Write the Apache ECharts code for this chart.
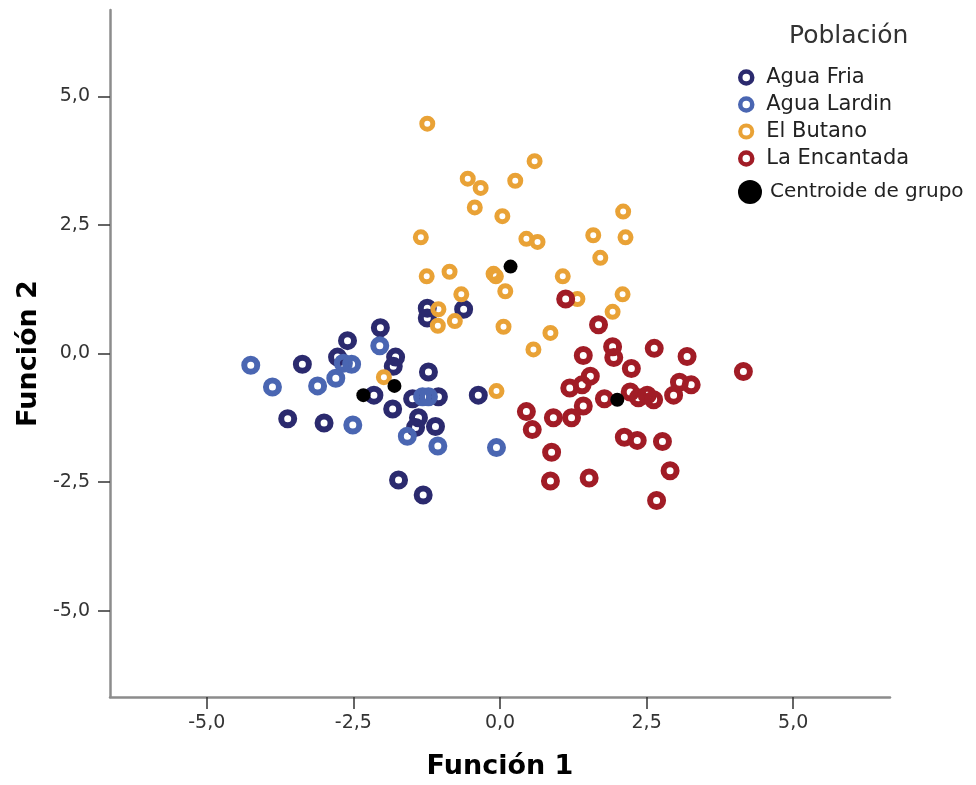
<!DOCTYPE html>
<html>
<head>
<meta charset="utf-8">
<script src="https://cdn.jsdelivr.net/npm/echarts@6/dist/echarts.min.js"></script>
<style>html,body{margin:0;padding:0;background:#fff;}#c{width:976px;height:785px;}</style>
</head>
<body>
<div id="c"></div>
<script>
const tickValues = [-5, -2.5, 0, 2.5, 5];
const seriesNames = ['Agua Fria', 'Agua Lardin', 'El Butano', 'La Encantada'];
const centroidName = 'Centroide de grupo';
const legendTitle = 'Población';
const xTitle = 'Función 1';
const yTitle = 'Función 2';

const aguaFria = [[-3.37,-0.21],[-3.62,-1.27],[-2.60,0.25],[-2.77,-0.07],[-3.00,-1.35],[-2.04,0.50],[-1.78,-0.07],[-1.82,-0.25],[-2.15,-0.81],[-1.83,-1.08],[-1.49,-0.88],[-1.05,-0.84],[-1.22,-0.36],[-1.39,-1.25],[-1.44,-1.44],[-1.10,-1.42],[-0.37,-0.81],[-1.73,-2.46],[-1.31,-2.75],[-1.24,0.88],[-1.24,0.69],[-0.62,0.86]];
const aguaLardin = [[-4.25,-0.23],[-3.88,-0.65],[-2.67,-0.19],[-2.53,-0.21],[-2.80,-0.48],[-3.11,-0.63],[-2.51,-1.39],[-2.05,0.15],[-1.32,-0.84],[-1.22,-0.84],[-1.58,-1.61],[-1.06,-1.80],[-0.06,-1.83]];
const elButano = [[-1.24,4.47],[-0.55,3.40],[-0.33,3.22],[0.59,3.74],[0.26,3.36],[-0.43,2.84],[0.04,2.67],[-1.35,2.26],[0.45,2.23],[0.64,2.17],[2.10,2.76],[1.59,2.30],[2.14,2.26],[1.71,1.86],[-1.25,1.50],[-0.86,1.59],[-0.11,1.55],[-0.07,1.50],[0.09,1.21],[-0.66,1.15],[1.07,1.50],[2.09,1.15],[1.92,0.81],[1.32,1.06],[-1.05,0.86],[-1.06,0.54],[-0.77,0.63],[0.06,0.52],[0.86,0.40],[0.57,0.08],[-1.98,-0.46],[-0.06,-0.73]];
const laEncantada = [[1.12,1.06],[1.68,0.56],[1.92,0.13],[1.94,-0.08],[1.42,-0.04],[2.63,0.10],[3.19,-0.06],[4.15,-0.35],[2.24,-0.29],[1.54,-0.44],[1.40,-0.61],[1.19,-0.67],[1.78,-0.88],[2.22,-0.75],[2.36,-0.86],[2.51,-0.81],[2.62,-0.90],[3.06,-0.56],[3.26,-0.61],[2.96,-0.81],[1.42,-1.02],[1.22,-1.25],[0.91,-1.25],[0.45,-1.13],[0.55,-1.48],[2.12,-1.63],[2.34,-1.69],[2.77,-1.71],[0.88,-1.92],[2.90,-2.28],[0.86,-2.48],[1.52,-2.42],[2.67,-2.86]];
const centroides = [[0.18,1.69],[-2.33,-0.81],[-1.80,-0.63],[2.00,-0.90]];

const groupData = [aguaFria, aguaLardin, elButano, laEncantada];
const colors = ['#2b2a6e', '#4a66b2', '#e9a236', '#a11c26'];
const sizes = [13, 13, 11, 13];
const borders = [6, 6, 5, 6];
const legendBorders = [4.5, 4.5, 4, 4.5];

const fmt = v => v.toFixed(1).replace('.', ',');
const FONT = 'DejaVu Sans';

function axisCommon() {
  return {
    type: 'value',
    splitLine: { show: false },
    axisLine: { show: true, onZero: false, lineStyle: { color: '#8c8c8c', width: 2.5 } },
    axisTick: { show: true, customValues: tickValues, length: 12, lineStyle: { color: '#333', width: 1.5 } },
    axisLabel: { customValues: tickValues, formatter: fmt, color: '#333', fontFamily: FONT, fontSize: 19 },
    nameTextStyle: { color: '#000', fontFamily: FONT, fontWeight: 'bold', fontSize: 27 }
  };
}

const series = groupData.map((d, i) => ({
  name: seriesNames[i],
  type: 'scatter',
  data: d,
  symbol: 'circle',
  symbolSize: sizes[i],
  itemStyle: { color: 'rgba(255,255,255,0)', borderColor: colors[i], borderWidth: borders[i], opacity: 1 },
  emphasis: { disabled: true }
}));
series.push({
  name: centroidName,
  type: 'scatter',
  data: centroides,
  symbol: 'circle',
  symbolSize: 14,
  itemStyle: { color: '#000', borderColor: '#000', borderWidth: 0, opacity: 1 },
  z: 5,
  emphasis: { disabled: true }
});

const chart = echarts.init(document.getElementById('c'), null, { renderer: 'canvas' });
chart.setOption({
  animation: false,
  backgroundColor: '#fff',
  grid: { left: 110, right: 86, top: 10, bottom: 79, containLabel: false },
  xAxis: Object.assign(axisCommon(), {
    min: -6.65, max: 6.65,
    name: xTitle, nameLocation: 'middle', nameGap: 56,
    axisLabel: Object.assign(axisCommon().axisLabel, { margin: 17 })
  }),
  yAxis: Object.assign(axisCommon(), {
    min: -6.68, max: 6.68,
    name: yTitle, nameLocation: 'middle', nameGap: 66, nameRotate: 90,
    axisLabel: Object.assign(axisCommon().axisLabel, { margin: 20 })
  }),
  graphic: [{
    type: 'text', left: 789, top: 24,
    style: { text: legendTitle, fill: '#333', font: '25px "DejaVu Sans"' }
  }],
  legend: [{
    data: seriesNames.map((n, i) => ({ name: n, itemStyle: { color: 'rgba(255,255,255,0)', borderColor: colors[i], borderWidth: legendBorders[i] } })),
    orient: 'vertical',
    left: 733, top: 62,
    itemWidth: 30, itemHeight: 12,
    itemGap: 6,
    symbolKeepAspect: true,
    textStyle: { color: '#222', fontFamily: FONT, fontSize: 21 }
  }, {
    data: [{ name: centroidName, itemStyle: { color: '#000' } }],
    orient: 'vertical',
    left: 733, top: 175,
    itemWidth: 30, itemHeight: 24,
    symbolKeepAspect: true,
    textStyle: { color: '#222', fontFamily: FONT, fontSize: 20 }
  }],
  series: series
});
</script>
</body>
</html>
